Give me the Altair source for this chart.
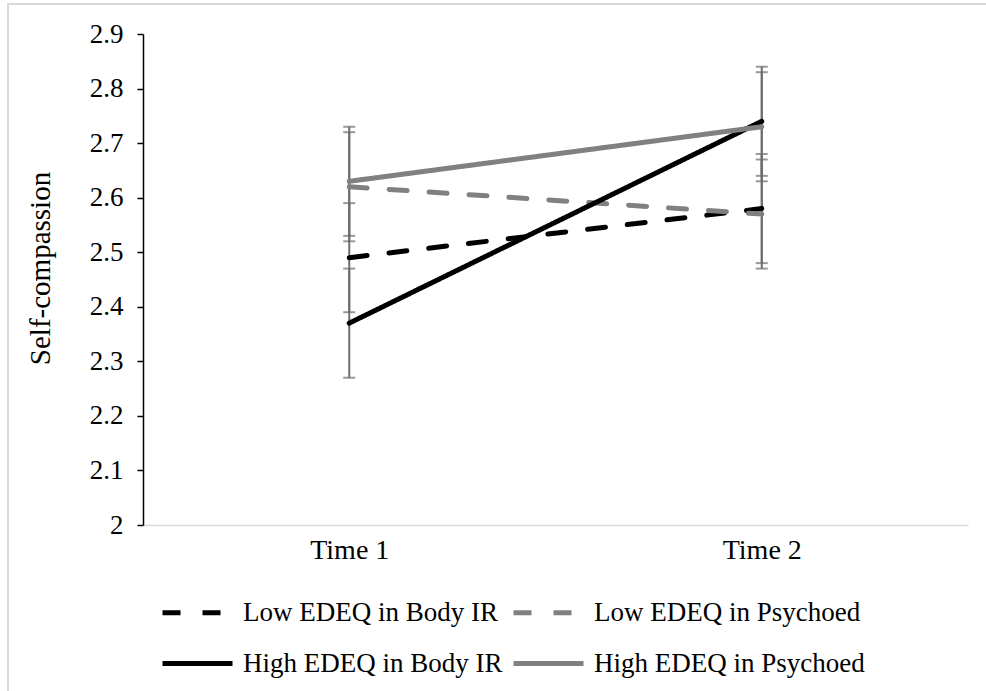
import altair as alt
import pandas as pd

# Measurement occasions and groups
times = ["Time 1", "Time 2"]
series = [
    "Low EDEQ in Body IR",
    "Low EDEQ in Psychoed",
    "High EDEQ in Body IR",
    "High EDEQ in Psychoed",
]

# Mean self-compassion per group at each occasion
low_body = [2.49, 2.58]
low_psych = [2.62, 2.57]
high_body = [2.37, 2.74]
high_psych = [2.63, 2.73]

# Error bar half-widths per group at each occasion
err_low_body = [0.10, 0.10]
err_low_psych = [0.10, 0.10]
err_high_body = [0.10, 0.10]
err_high_psych = [0.10, 0.10]

y_ticks = [2.0, 2.1, 2.2, 2.3, 2.4, 2.5, 2.6, 2.7, 2.8, 2.9]

line_colors = ["#000000", "#808080", "#000000", "#808080"]
line_dashes = [[18, 22], [18, 22], [1, 0], [1, 0]]

FONT = "Liberation Serif"

rows = []
for name, vals, errs in zip(
    series,
    [low_body, low_psych, high_body, high_psych],
    [err_low_body, err_low_psych, err_high_body, err_high_psych],
):
    for t, v, e in zip(times, vals, errs):
        rows.append({"time": t, "group": name, "mean": v, "lo": v - e, "hi": v + e})
df = pd.DataFrame(rows)

x_enc = alt.X(
    "time:N",
    scale=alt.Scale(type="point", domain=times, padding=0.5),
    axis=alt.Axis(
        title=None,
        labelAngle=0,
        ticks=False,
        domainColor="#d9d9d9",
        domainWidth=1.5,
        labelFont=FONT,
        labelFontSize=28,
        labelColor="#000000",
        labelPadding=11,
    ),
)
y_scale = alt.Scale(domain=[2.0, 2.9], nice=False, zero=False)

base = alt.Chart(df)

# Frame around the whole figure
frame = base.mark_rect(filled=False, stroke="#d9d9d9", strokeWidth=1.5).encode(
    x=alt.value(-135), x2=alt.value(880), y=alt.value(-30), y2=alt.value(700)
)

err_rule = base.mark_rule(color="#6e6e6e", strokeWidth=2).encode(
    x=x_enc,
    y=alt.Y("lo:Q", scale=y_scale),
    y2="hi:Q",
)
err_lo = base.mark_tick(color="#6e6e6e", size=12, thickness=2).encode(
    x=x_enc, y=alt.Y("lo:Q", scale=y_scale)
)
err_hi = base.mark_tick(color="#6e6e6e", size=12, thickness=2).encode(
    x=x_enc, y=alt.Y("hi:Q", scale=y_scale)
)

legend_opts = dict(
    title=None,
    orient="none",
    direction="horizontal",
    legendX=17,
    legendY=541,
    columns=2,
    columnPadding=0,
    rowPadding=-20,
    padding=0,
    symbolType="stroke",
    symbolSize=4900,
    symbolStrokeWidth=5,
    labelFont=FONT,
    labelFontSize=27,
    labelColor="#000000",
    labelOffset=8,
    labelLimit=400,
)

lines = base.mark_line(strokeWidth=5, strokeCap="round").encode(
    x=x_enc,
    y=alt.Y(
        "mean:Q",
        scale=y_scale,
        axis=alt.Axis(
            title="Self-compassion",
            values=y_ticks,
            format="~g",
            grid=False,
            domainColor="#000000",
            domainWidth=1.5,
            tickColor="#000000",
            tickWidth=1.5,
            tickSize=6,
            labelFont=FONT,
            labelFontSize=27,
            labelColor="#000000",
            labelPadding=14,
            titleFont=FONT,
            titleFontSize=29,
            titleFontWeight="normal",
            titleColor="#000000",
            titleX=-103,
            titleY=234,
            titleBaseline="middle",
            titleAlign="center",
            titleAngle=-90,
        ),
    ),
    color=alt.Color(
        "group:N",
        scale=alt.Scale(domain=series, range=line_colors),
        legend=alt.Legend(**legend_opts),
    ),
    strokeDash=alt.StrokeDash(
        "group:N",
        scale=alt.Scale(domain=series, range=line_dashes),
        legend=alt.Legend(**legend_opts),
    ),
)

chart = (
    alt.layer(frame, err_rule, err_lo, err_hi, lines)
    .properties(
        width=825,
        height=491,
        autosize=alt.AutoSizeParams(type="none"),
        padding={"left": 143, "top": 34, "right": 18, "bottom": 166},
        background="white",
    )
    .configure_view(stroke=None)
)

chart.save("out.html", embed_options={"renderer": "svg", "actions": False})
